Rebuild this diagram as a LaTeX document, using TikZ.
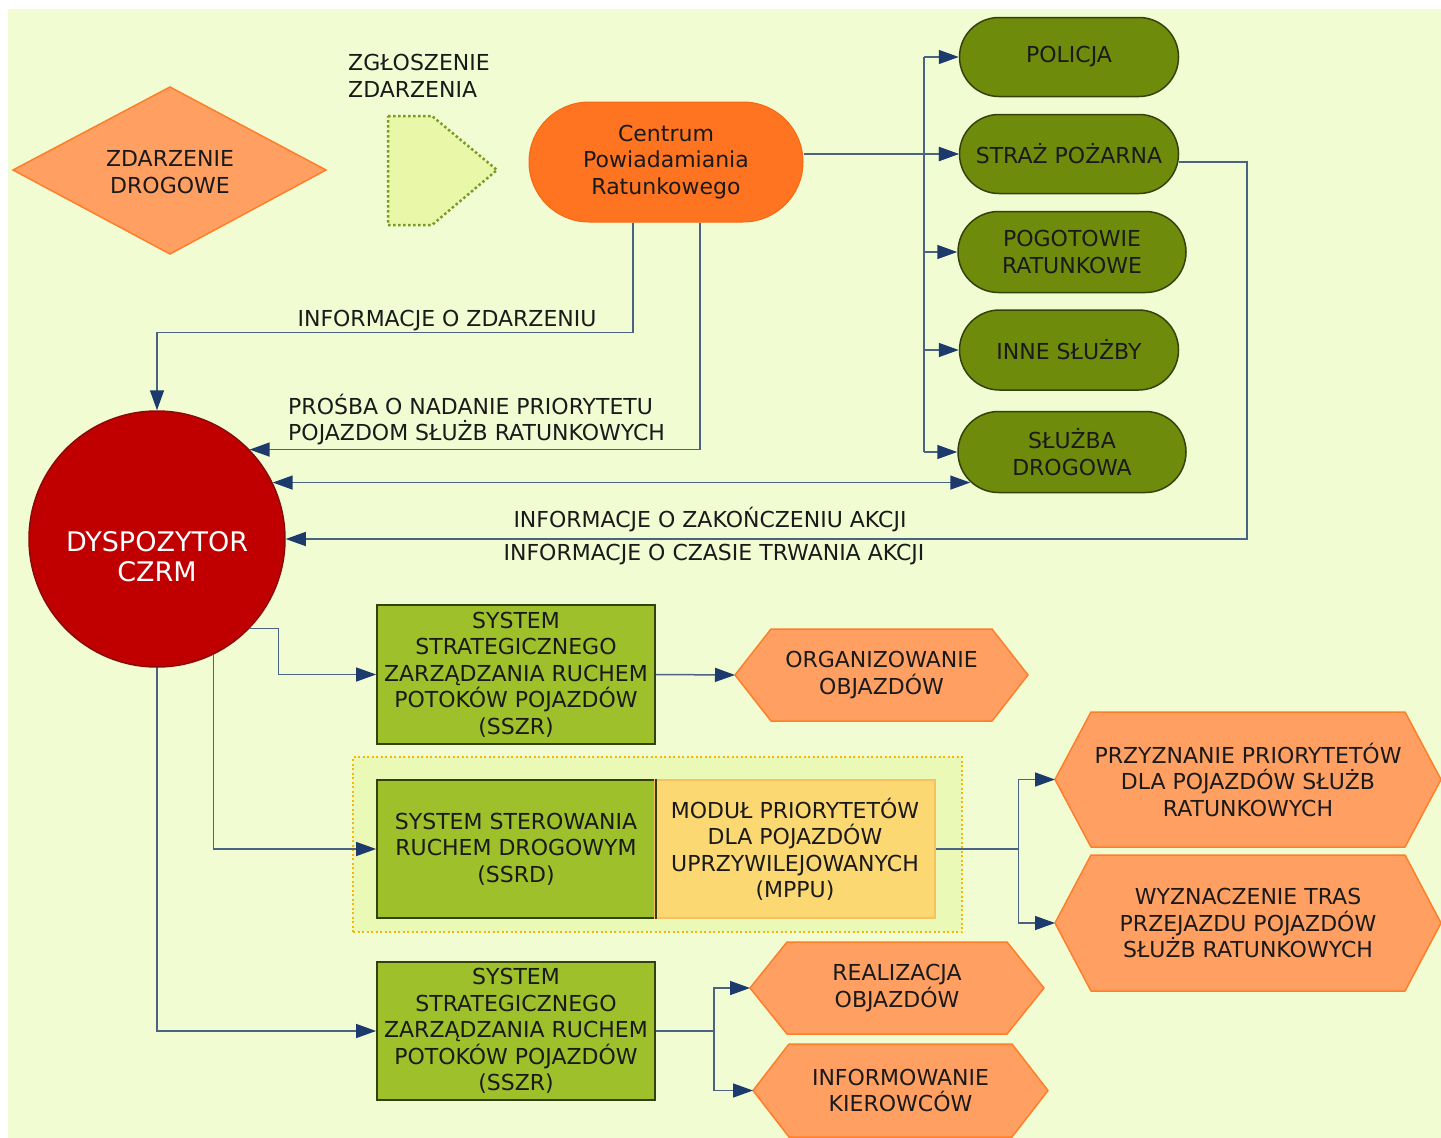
\documentclass[tikz,border=0pt]{standalone}
\usepackage{fontspec}
\setmainfont{DejaVu Sans}
\usetikzlibrary{arrows.meta,shapes.misc,shapes.geometric,calc}
\definecolor{bg}{HTML}{F2FCD2}
\definecolor{lnc}{HTML}{4A6384}
\definecolor{arrc}{HTML}{1C3A6C}
\definecolor{orfill}{HTML}{FFA062}
\definecolor{ordraw}{HTML}{FF7E2A}
\definecolor{cprfill}{HTML}{FF7420}
\definecolor{cprdraw}{HTML}{F86812}
\definecolor{pillfill}{HTML}{6E8B0C}
\definecolor{pilldraw}{HTML}{34420A}
\definecolor{redfill}{HTML}{C00000}
\definecolor{reddraw}{HTML}{8A0A0A}
\definecolor{boxfill}{HTML}{9DC02B}
\definecolor{boxdraw}{HTML}{34400E}
\definecolor{mppufill}{HTML}{FCD872}
\definecolor{mppudraw}{HTML}{F9C060}
\definecolor{grpfill}{HTML}{EBF9B6}
\definecolor{grpdraw}{HTML}{F5B800}
\definecolor{pentfill}{HTML}{E8F8A8}
\definecolor{pentdraw}{HTML}{7A9A28}
\definecolor{txt}{HTML}{1A1A1A}
\tikzset{
  ln/.style={draw=lnc, line width=1.5pt},
  arr/.style={ln, -{Triangle[length=20pt,width=14pt,color=arrc]}},
  arrtwo/.style={ln, {Triangle[length=20pt,width=14pt,color=arrc]}-{Triangle[length=20pt,width=14pt,color=arrc]}},
  hexsty/.style={fill=orfill, draw=ordraw, line width=1.5pt, line join=round},
  pill/.style={rounded rectangle, fill=pillfill, draw=pilldraw, line width=1.5pt},
  sysbox/.style={rectangle, fill=boxfill, draw=boxdraw, line width=1.8pt, minimum width=278pt},
}
\newcommand{\hexnode}[7]{%
  \draw[hexsty] (#2,{(#4+#5)/2}) -- ({#2+#6},#4) -- ({#3-#6},#4) -- (#3,{(#4+#5)/2}) -- ({#3-#6},#5) -- ({#2+#6},#5) -- cycle;
  \coordinate (#1-w) at (#2,{(#4+#5)/2});
  \node (#1) at ({(#2+#3)/2},{(#4+#5)/2}) {#7};}
\begin{document}
\begin{tikzpicture}[x=1pt,y=-1pt,
  every node/.style={font=\fontsize{22}{26.5}\selectfont, text=txt, align=center, inner sep=0pt}]
\useasboundingbox (0,0) rectangle (1441,1138);
\fill[white] (0,0) rectangle (1441,1138);
\fill[bg] (8,9) rectangle (1441,1138);

% group box
\node[rectangle, fill=grpfill, draw=grpdraw, line width=2pt, dash pattern=on 2pt off 2.5pt,
  minimum width=609pt, minimum height=175pt] (grp) at (657.5,844.5) {};

% diamond
\draw[fill=orfill, draw=ordraw, line width=1.5pt] (13,170) -- (170,87) -- (326,170) -- (170,254) -- cycle;
\node (zd) at (170,172) {ZDARZENIE\\DROGOWE};

% pentagon
\draw[fill=pentfill, draw=pentdraw, line width=2.5pt, dash pattern=on 2.5pt off 2.5pt]
  (388,116) -- (432,116) -- (497,170) -- (432,225) -- (388,225) -- cycle;
\node[align=left, anchor=west] (zgl) at (348,76) {ZGŁOSZENIE\\ZDARZENIA};

% CPR
\node[rounded rectangle, fill=cprfill, draw=cprdraw, line width=1pt,
  minimum width=274pt, minimum height=120pt] (cpr) at (666,162) {Centrum\\Powiadamiania\\Ratunkowego};

% services
\node[pill, minimum width=219pt, minimum height=79pt] (policja) at (1069,57) {POLICJA};
\node[pill, minimum width=219pt, minimum height=79pt] (straz) at (1069,154) {STRAŻ POŻARNA};
\node[pill, minimum width=228pt, minimum height=81pt] (pogot) at (1072,252) {POGOTOWIE\\RATUNKOWE};
\node[pill, minimum width=219pt, minimum height=80pt] (inne) at (1069,350) {INNE SŁUŻBY};
\node[pill, minimum width=228pt, minimum height=81pt] (sluzba) at (1072,452) {SŁUŻBA\\DROGOWA};

% dispatcher
\node[circle, fill=redfill, draw=reddraw, line width=1.5pt, minimum size=256pt]
  (disp) at (157,539) {};
\node[text=white, font=\fontsize{27}{30}\selectfont] (disptxt) at (157,557) {DYSPOZYTOR\\CZRM};

% systems
\node[sysbox, minimum height=139pt] (sszr1) at (516,674.5) {SYSTEM\\STRATEGICZNEGO\\ZARZĄDZANIA RUCHEM\\POTOKÓW POJAZDÓW\\(SSZR)};
\node[sysbox, minimum height=138pt] (ssrd) at (516,849) {SYSTEM STEROWANIA\\RUCHEM DROGOWYM\\(SSRD)};
\node[rectangle, fill=mppufill, draw=mppudraw, line width=1.2pt, minimum width=280pt, minimum height=138pt]
  (mppu) at (795,849) {MODUŁ PRIORYTETÓW\\DLA POJAZDÓW\\UPRZYWILEJOWANYCH\\(MPPU)};
\draw[boxdraw, line width=1.8pt] (ssrd.north east) -- (ssrd.south east);
\node[sysbox, minimum height=138pt] (sszr2) at (516,1031) {SYSTEM\\STRATEGICZNEGO\\ZARZĄDZANIA RUCHEM\\POTOKÓW POJAZDÓW\\(SSZR)};

% hexagons
\hexnode{org}{735}{1028}{629}{721}{36}{ORGANIZOWANIE\\OBJAZDÓW}
\hexnode{przy}{1055}{1441}{712}{847}{36}{PRZYZNANIE PRIORYTETÓW\\DLA POJAZDÓW SŁUŻB\\RATUNKOWYCH}
\hexnode{wyz}{1055}{1441}{855}{991}{36}{WYZNACZENIE TRAS\\PRZEJAZDU POJAZDÓW\\SŁUŻB RATUNKOWYCH}
\hexnode{real}{750}{1044}{942}{1034}{37}{REALIZACJA\\OBJAZDÓW}
\hexnode{info}{753}{1048}{1044}{1137}{36}{INFORMOWANIE\\KIEROWCÓW}

% labels
\node (lbl1) at (447,321) {INFORMACJE O ZDARZENIU};
\node[align=left, anchor=west] (lbl2) at (288,419.5) {PROŚBA O NADANIE PRIORYTETU\\POJAZDOM SŁUŻB RATUNKOWYCH};
\node (lbl3) at (710,519) {INFORMACJE O ZAKOŃCZENIU AKCJI};
\node (lbl4) at (714,555) {INFORMACJE O CZASIE TRWANIA AKCJI};

% connectors: CPR to services
\coordinate (busx) at (924,0);
\draw[arr] (cpr.east |- straz.west) -- (straz.west);
\draw[ln] (busx |- policja.west) -- (busx |- sluzba.west);
\foreach \n in {policja,straz,pogot,inne,sluzba}
  \draw[arr] (busx |- \n.west) -- (\n.west);

% straz to dispatcher
\draw[arr] ($(straz.east)+(0,8)$) -- ++(67.5,0) |- (disp.east);

% dispatcher <-> sluzba drogowa
\draw[arrtwo] (disp.26.4) -- ($(disp.26.4 -| sluzba.west)+(13,0)$);

% CPR to dispatcher
\draw[arr] ($(cpr.south)+(-33,0)$) |- ($(disp.north)+(0,-78)$) -- (disp.north);
\draw[arr] ($(cpr.south)+(34,0)$) |- (disp.44.7);

% dispatcher to systems
\draw[arr] (disp.-44.4) -- ++(29,0) |- (sszr1.west);
\draw[arr] (disp.-64) |- (ssrd.west);
\draw[arr] (disp.south) |- (sszr2.west);

% systems to hexagons
\draw[arr] (sszr1.east) -- (org-w);
\draw[ln] (mppu.east) -- ++(83,0) coordinate (br1);
\draw[arr] (br1) |- (przy-w);
\draw[arr] (br1) |- (wyz-w);
\draw[ln] (sszr2.east) -- ++(58,0) coordinate (br2);
\draw[arr] (br2) |- (real-w);
\draw[arr] (br2) |- (info-w);
\end{tikzpicture}
\end{document}
